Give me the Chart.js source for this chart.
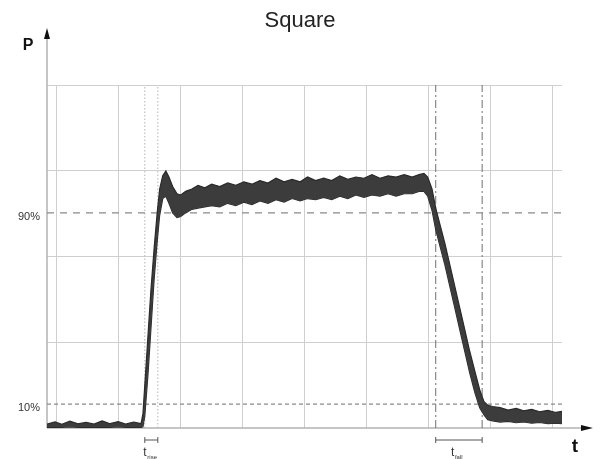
<!DOCTYPE html>
<html>
<head>
<meta charset="utf-8">
<script src="https://cdn.jsdelivr.net/npm/chart.js@4"></script>
<style>
  html, body { margin: 0; padding: 0; background: #fff; }
  #wrap { width: 600px; height: 459px; }
</style>
</head>
<body>
<div id="wrap"><canvas id="chart"></canvas></div>
<script>
// ----- Data -----
const chartTitle = "Square";
const gridT = [0, 1, 2, 3, 4, 5, 6, 7, 8];          // vertical divisions
const gridP = [0, 35.9, 71.8, 107.6, 143.5];        // horizontal divisions (P %)
const levels = [90, 10];
const levelLabels = ["90%", "10%"];
const riseMarks = [1.42, 1.63];
const fallMarks = [6.12, 6.87];
const tRange = [-0.16, 8.16];

const tBand = [
  -0.16, -0.03, 0.08, 0.21, 0.34, 0.47, 0.60, 0.73, 0.86, 0.99, 1.11, 1.24, 1.36,
  1.39, 1.42, 1.47, 1.52, 1.57, 1.62, 1.66, 1.71, 1.76, 1.81, 1.87, 1.94, 2.00, 2.08, 2.18, 2.28,
  2.39, 2.50, 2.63, 2.76, 2.89, 3.02, 3.15, 3.28, 3.41, 3.54, 3.67, 3.80, 3.93, 4.05, 4.18,
  4.31, 4.44, 4.57, 4.70, 4.83, 4.96, 5.09, 5.22, 5.35, 5.48, 5.61, 5.74, 5.85, 5.93,
  5.99, 6.06, 6.12, 6.19, 6.27, 6.35, 6.43, 6.51, 6.59, 6.67, 6.75, 6.83, 6.90, 6.96,
  7.04, 7.16, 7.29, 7.42, 7.54, 7.67, 7.80, 7.93, 8.06, 8.16
];
const pUpper = [
  1.6, 2.6, 1.5, 2.9, 1.7, 2.4, 1.6, 3.0, 1.8, 2.7, 1.6, 2.5, 1.8,
  6, 18, 38, 58, 75, 90, 100, 105.5, 107.5, 105, 101, 98, 97.5, 99, 100, 101.5,
  100.5, 102, 101, 102.5, 101.5, 103, 102, 103.5, 102.5, 104.5, 103, 104, 103, 105, 103.5,
  104.5, 103.5, 105.5, 104, 105, 104.5, 106, 104.5, 105.5, 105, 106, 105, 106, 106.5,
  105, 100, 92, 85, 77, 68, 59, 50, 41, 32, 24, 16, 11, 9.5,
  9, 8.5, 7.5, 8.2, 7.2, 7.8, 6.8, 7.4, 6.5, 7
];
const pLower = [
  0.3, 0.4, 0.3, 0.5, 0.3, 0.4, 0.3, 0.4, 0.3, 0.5, 0.3, 0.4, 0.3,
  0.5, 5, 22, 42, 62, 78, 89, 96, 97, 94, 90, 88, 88.5, 90, 91.5, 92,
  92.5, 93, 92.5, 94, 93, 94.5, 93.5, 95, 94, 95.5, 94.5, 96, 95, 96, 95.5,
  96.5, 95.5, 97, 96, 97.5, 96.5, 97.5, 97, 98, 97, 98, 98, 99, 99,
  97, 91, 83, 76, 68, 59, 50, 41, 32, 23, 15, 8.5, 5.5, 3.5,
  3, 2.5, 2.8, 2.2, 2.5, 2, 2.3, 1.8, 2, 1.8
];

const FONT = "'Liberation Sans', Arial, sans-serif";

// ----- Datasets -----
const bandUpper = tBand.map((t, i) => ({ x: t, y: pUpper[i] }));
const bandLower = tBand.map((t, i) => ({ x: t, y: pLower[i] }));

const datasets = [
  { data: bandUpper, borderColor: "#2a2a2a", borderWidth: 1.2, backgroundColor: "#3c3c3c", fill: "+1", pointRadius: 0, order: 0 },
  { data: bandLower, borderColor: "#2a2a2a", borderWidth: 1.2, fill: false, pointRadius: 0, order: 0 },
  { data: tRange.map(t => ({ x: t, y: levels[0] })), borderColor: "#8a8a8a", borderWidth: 1.3, borderDash: [7, 6], pointRadius: 0, fill: false, order: 2 },
  { data: tRange.map(t => ({ x: t, y: levels[1] })), borderColor: "#8a8a8a", borderWidth: 1.1, borderDash: [4, 3], pointRadius: 0, fill: false, order: 2 }
];
riseMarks.forEach(t => datasets.push({
  data: [{ x: t, y: gridP[0] }, { x: t, y: gridP[gridP.length - 1] }],
  borderColor: "#b5b5b5", borderWidth: 1, borderDash: [1.5, 2], pointRadius: 0, fill: false, order: 2
}));
fallMarks.forEach(t => datasets.push({
  data: [{ x: t, y: gridP[0] }, { x: t, y: gridP[gridP.length - 1] }],
  borderColor: "#707070", borderWidth: 1, borderDash: [8, 3, 2, 3], pointRadius: 0, fill: false, order: 2
}));

// ----- Decorations -----
const decor = {
  id: "decor",
  beforeDatasetsDraw(chart) {
    const { ctx, chartArea: a } = chart;
    ctx.save();
    ctx.strokeStyle = "#b3b3b3";
    ctx.lineWidth = 1.5;
    ctx.beginPath();
    ctx.moveTo(a.left, a.bottom); ctx.lineTo(a.left, 36);
    ctx.moveTo(a.left, a.bottom); ctx.lineTo(584, a.bottom);
    ctx.stroke();
    ctx.fillStyle = "#111";
    ctx.beginPath(); ctx.moveTo(a.left, 28); ctx.lineTo(a.left - 3, 39); ctx.lineTo(a.left + 3, 39); ctx.closePath(); ctx.fill();
    ctx.beginPath(); ctx.moveTo(593, a.bottom); ctx.lineTo(581, a.bottom - 3); ctx.lineTo(581, a.bottom + 3); ctx.closePath(); ctx.fill();
    ctx.restore();
  },
  afterDraw(chart) {
    const { ctx, chartArea: a, scales: { x, y } } = chart;
    ctx.save();
    ctx.fillStyle = "#222";
    ctx.textAlign = "center";
    ctx.textBaseline = "middle";
    ctx.font = "22px " + FONT;
    ctx.fillText(chartTitle, 300, 21);

    ctx.font = "bold 16px " + FONT;
    ctx.fillStyle = "#111";
    ctx.fillText("P", 28, 46);
    ctx.font = "bold 19px " + FONT;
    ctx.fillText("t", 575, 447);

    ctx.font = "11px " + FONT;
    ctx.fillStyle = "#333";
    ctx.textAlign = "right";
    levels.forEach((v, i) => ctx.fillText(levelLabels[i], 40, y.getPixelForValue(v) + 4));

    // intervals under the axis
    [[riseMarks, "rise"], [fallMarks, "fall"]].forEach(([m, sub]) => {
      const x0 = x.getPixelForValue(m[0]), x1 = x.getPixelForValue(m[1]);
      const yy = a.bottom + 12;
      ctx.strokeStyle = "#555";
      ctx.lineWidth = 1;
      ctx.beginPath();
      ctx.moveTo(x0, yy); ctx.lineTo(x1, yy);
      ctx.moveTo(x0, yy - 3); ctx.lineTo(x0, yy + 3);
      ctx.moveTo(x1, yy - 3); ctx.lineTo(x1, yy + 3);
      ctx.stroke();
      const cx = (x0 + x1) / 2;
      ctx.fillStyle = "#333";
      ctx.textAlign = "left";
      ctx.font = "12px " + FONT;
      ctx.fillText("t", cx - 8, yy + 13);
      ctx.font = "6px " + FONT;
      ctx.fillText(sub, cx - 4, yy + 17);
    });
    ctx.restore();
  }
};

// ----- Chart -----
new Chart(document.getElementById("chart"), {
  type: "line",
  data: { datasets },
  options: {
    responsive: true,
    maintainAspectRatio: false,
    animation: false,
    events: [],
    layout: { padding: { left: 47, right: 38, top: 85, bottom: 31 } },
    plugins: { legend: { display: false }, tooltip: { enabled: false }, title: { display: false } },
    scales: {
      x: {
        type: "linear", min: tRange[0], max: tRange[1],
        afterBuildTicks: s => { s.ticks = gridT.map(v => ({ value: v })); },
        ticks: { display: false },
        grid: { color: "#cfcfcf", lineWidth: 1, drawTicks: false },
        border: { display: false }
      },
      y: {
        min: gridP[0], max: gridP[gridP.length - 1],
        afterBuildTicks: s => { s.ticks = gridP.slice(1).map(v => ({ value: v })); },
        ticks: { display: false },
        grid: { color: "#cfcfcf", lineWidth: 1, drawTicks: false },
        border: { display: false }
      }
    }
  },
  plugins: [decor]
});
</script>
</body>
</html>
